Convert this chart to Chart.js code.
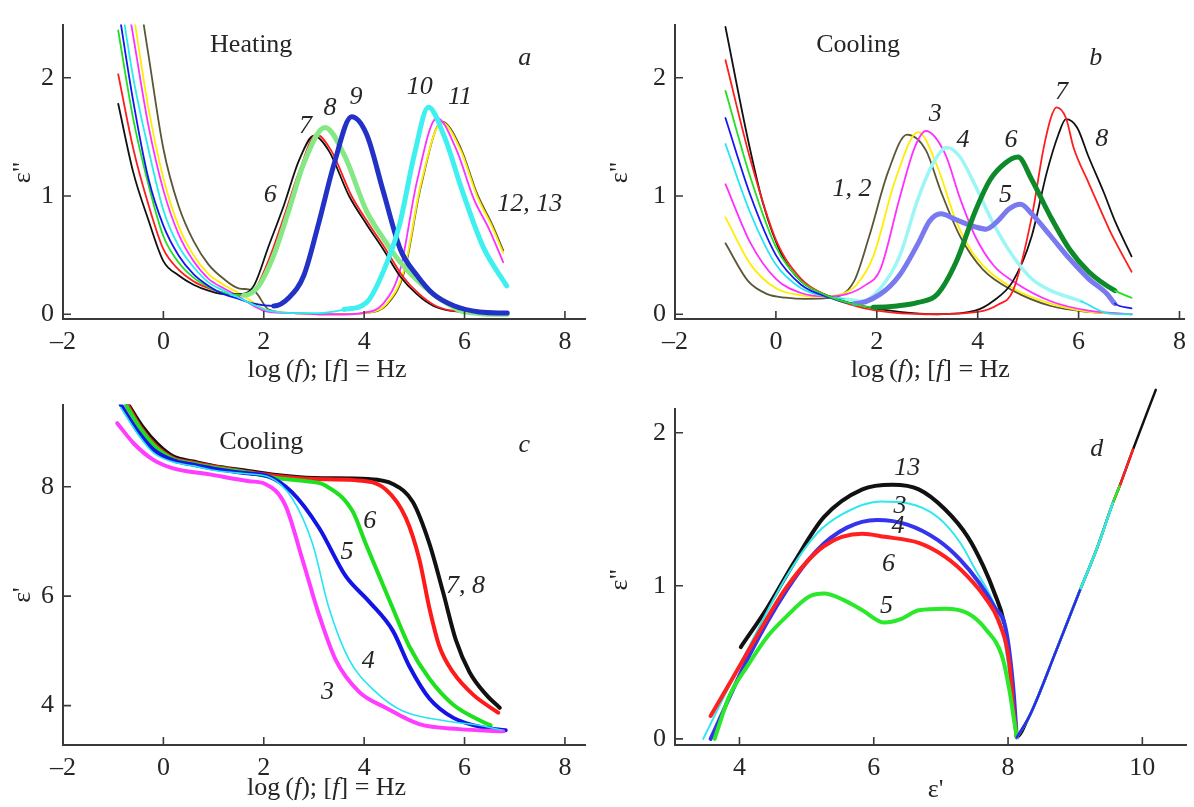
<!DOCTYPE html>
<html>
<head>
<meta charset="utf-8">
<script src="https://cdn.jsdelivr.net/npm/chart.js@4.4.0/dist/chart.umd.min.js"></script>
<style>
  body { margin: 0; background: #fff; width: 1194px; height: 807px; position: relative; overflow: hidden; }
  canvas { position: absolute; }
</style>
</head>
<body>
<canvas id="pc" width="597" height="427" style="left:0;top:380px"></canvas>
<canvas id="pd" width="597" height="427" style="left:597px;top:380px"></canvas>
<canvas id="pa" width="597" height="400" style="left:0;top:0"></canvas>
<canvas id="pb" width="597" height="400" style="left:597px;top:0"></canvas>
<script>
// ---- tick labels
const logTicks = [-2, 0, 2, 4, 6, 8];
const epsTicksAB = [0, 1, 2];
const epsTicksC = [4, 6, 8];
const epsTicksDX = [4, 6, 8, 10];

// ---- panel a (heating), eps'' vs log f
const aX6 = [-0.9,-0.6,-0.3,0,0.3,0.6,0.9,1.2,1.5,1.8,2.1,2.4,2.7,3.0,3.3,3.7,4.05,4.38,4.72,5.05,5.38,5.7,6.0,6.4,6.85];
const aY6 = [1.78,1.2,0.8,0.45,0.33,0.25,0.2,0.17,0.17,0.24,0.58,0.92,1.3,1.51,1.38,1.0,0.76,0.55,0.32,0.17,0.07,0.03,0.02,0.01,0.0];
const aX7 = [-0.9,-0.6,-0.3,0,0.3,0.6,0.9,1.2,1.5,1.8,2.1,2.4,2.7,3.05,3.35,3.75,4.1,4.43,4.77,5.1,5.43,5.75,6.05,6.45,6.85];
const aY7 = [2.03,1.4,0.93,0.55,0.38,0.28,0.22,0.18,0.16,0.2,0.46,0.82,1.2,1.52,1.38,1.0,0.76,0.55,0.32,0.17,0.07,0.03,0.02,0.01,0.0];
const aX8 = [-0.9,-0.6,-0.3,0,0.3,0.6,0.9,1.2,1.6,1.9,2.2,2.5,2.8,3.22,3.6,4.05,4.4,4.72,5.05,5.38,5.7,5.91,6.2,6.5,6.85];
const aY8 = [2.4,1.65,1.1,0.66,0.44,0.31,0.23,0.18,0.16,0.24,0.5,0.88,1.28,1.58,1.35,0.87,0.63,0.44,0.29,0.17,0.08,0.03,0.01,0.0,0.0];
const aX9 = [-0.9,-0.6,-0.3,0,0.3,0.6,0.9,1.2,1.5,1.8,2.2,2.5,2.8,3.1,3.4,3.75,4.05,4.38,4.72,5.05,5.38,5.8,6.3,6.85];
const aY9 = [2.6,1.8,1.15,0.75,0.5,0.34,0.24,0.17,0.13,0.09,0.07,0.14,0.33,0.78,1.27,1.67,1.52,1.04,0.55,0.33,0.17,0.07,0.02,0.01];
const aX10 = [-0.9,-0.6,-0.3,0,0.3,0.6,0.9,1.2,1.5,1.8,2.1,2.6,3.1,3.6,4.05,4.4,4.7,5.0,5.28,5.6,5.95,6.37,6.84];
const aY10 = [2.8,2.0,1.4,0.88,0.58,0.4,0.27,0.2,0.14,0.08,0.03,0.01,0.01,0.04,0.1,0.38,0.75,1.35,1.75,1.5,1.05,0.57,0.24];
const aX11 = [-0.9,-0.6,-0.3,0,0.3,0.6,0.9,1.2,1.5,1.8,2.1,2.6,3.1,3.6,3.95,4.38,4.72,5.05,5.45,5.84,6.18,6.5,6.77];
const aY11 = [3.1,2.35,1.6,1.05,0.68,0.45,0.3,0.22,0.15,0.07,0.02,0.01,0.0,0.0,0.01,0.09,0.38,1.12,1.66,1.39,0.98,0.71,0.44];
const aX12 = [-0.9,-0.6,-0.3,0,0.3,0.6,0.9,1.2,1.5,1.8,2.1,2.6,3.1,3.6,4.0,4.45,4.8,5.13,5.55,5.92,6.25,6.55,6.77];
const aY12 = [3.3,2.55,1.75,1.15,0.75,0.5,0.34,0.25,0.18,0.1,0.03,0.01,0.0,0.0,0.01,0.09,0.38,1.1,1.62,1.39,1.0,0.74,0.52];
const aY13 = [3.6,3.0,2.2,1.4,0.92,0.62,0.42,0.3,0.22,0.2,0.04,0.01,0.0,0.0,0.01,0.08,0.36,1.08,1.63,1.41,1.02,0.76,0.54];

// ---- panel b (cooling), eps'' vs log f
const bX1 = [-1,-0.55,-0.17,0.2,0.58,1.1,1.55,1.85,2.22,2.6,2.97,3.27,3.65,4.1,4.7,5.45,6.2,7.05];
const bY1 = [0.6,0.28,0.17,0.14,0.13,0.14,0.28,0.66,1.2,1.52,1.39,1.04,0.66,0.38,0.2,0.07,0.02,0.0];
const bX2 = [-1,-0.5,0,0.5,0.9,1.3,1.6,1.93,2.37,2.82,3.2,3.57,3.95,4.7,5.45,6.2,7.05];
const bY2 = [0.82,0.42,0.22,0.16,0.15,0.17,0.25,0.49,1.14,1.54,1.25,0.79,0.49,0.22,0.09,0.02,0.0];
const bX3 = [-1,-0.5,0,0.5,1.0,1.4,1.75,2.07,2.45,2.75,2.97,3.35,3.65,3.95,4.32,4.7,5.45,6.2,7.05];
const bY3 = [1.1,0.6,0.3,0.18,0.15,0.17,0.24,0.38,0.98,1.41,1.55,1.36,0.98,0.66,0.41,0.28,0.11,0.03,0.0];
const bX4 = [-1,-0.5,0,0.5,1.0,1.4,1.7,2.07,2.45,2.82,3.12,3.39,3.65,3.95,4.32,4.7,5.07,5.45,6.05,6.57,7.05];
const bY4 = [1.44,0.85,0.42,0.22,0.15,0.13,0.11,0.22,0.49,0.98,1.28,1.41,1.33,1.09,0.76,0.49,0.3,0.2,0.11,0.01,0.0];
const bX5 = [-1,-0.5,0,0.5,1.0,1.55,2.07,2.45,2.82,3.05,3.27,3.57,3.95,4.17,4.4,4.62,4.85,5.07,5.45,5.82,6.2,6.57,6.72,7.05];
const bY5 = [1.66,1.0,0.5,0.25,0.15,0.09,0.17,0.33,0.6,0.79,0.85,0.8,0.74,0.72,0.79,0.89,0.93,0.85,0.66,0.47,0.3,0.17,0.09,0.05];
const bX6 = [-1,-0.5,0,0.5,1.0,1.5,1.93,2.4,2.82,3.2,3.57,3.95,4.25,4.55,4.8,5.07,5.45,5.82,6.2,6.72,7.05];
const bY6 = [1.89,1.15,0.57,0.28,0.16,0.09,0.06,0.07,0.1,0.17,0.44,0.87,1.14,1.28,1.33,1.14,0.82,0.55,0.36,0.2,0.14];
const bX7 = [-1,-0.5,0,0.5,1.0,1.5,2.0,3.0,4.0,4.4,4.7,5.07,5.3,5.45,5.56,5.75,5.9,6.2,6.5,6.65,7.05];
const bY7 = [2.15,1.3,0.63,0.3,0.16,0.08,0.03,0.0,0.02,0.08,0.2,0.82,1.39,1.66,1.75,1.66,1.41,1.11,0.82,0.68,0.36];
const bX8 = [-1,-0.55,-0.25,0.13,0.5,0.95,1.7,2.45,3.2,3.95,4.3,4.7,5.07,5.37,5.6,5.75,5.97,6.2,6.5,6.72,7.05];
const bY8 = [2.43,1.47,0.93,0.49,0.28,0.17,0.07,0.02,0.0,0.03,0.11,0.28,0.66,1.2,1.52,1.65,1.58,1.33,1.03,0.79,0.49];

// ---- panel c (cooling), eps' vs log f
const cX3 = [-0.92,-0.58,-0.2,0.18,0.95,1.71,2.03,2.43,2.77,3.1,3.43,3.9,4.43,5.1,5.9,6.77];
const cY3 = [9.16,8.78,8.49,8.34,8.22,8.1,8.05,7.66,6.67,5.66,4.84,4.25,3.96,3.66,3.57,3.53];
const cX4 = [-0.85,-0.5,-0.2,0.2,0.6,1.0,1.6,2.09,2.57,2.97,3.3,3.7,4.23,4.77,5.63,6.29,6.75];
const cY4 = [9.45,8.95,8.62,8.45,8.38,8.3,8.24,8.18,7.78,6.96,5.78,4.84,4.25,3.9,3.72,3.64,3.55];
const cX5 = [-0.85,-0.5,-0.2,0.2,0.6,1.0,1.6,2.09,2.56,3.1,3.63,4.1,4.57,4.9,5.3,5.77,6.37,6.82];
const cY5 = [9.5,9.0,8.68,8.48,8.4,8.33,8.25,8.19,7.9,7.25,6.37,5.9,5.37,4.72,4.13,3.78,3.6,3.55];
const cX6 = [-0.75,-0.45,-0.15,0.2,0.6,1.0,1.6,2.24,2.85,3.23,3.77,4.03,4.3,4.57,4.9,5.3,5.77,6.37,6.52];
const cY6 = [9.5,9.05,8.72,8.5,8.42,8.35,8.27,8.16,8.1,8.02,7.55,6.96,6.37,5.78,5.08,4.49,4.02,3.7,3.64];
const cX7 = [-0.72,-0.45,-0.15,0.2,0.6,1.0,1.6,2.2,3.0,3.8,4.43,4.83,5.1,5.3,5.5,5.77,6.17,6.67];
const cY7 = [9.5,9.08,8.75,8.52,8.44,8.37,8.28,8.2,8.14,8.12,7.95,7.43,6.67,5.78,5.08,4.61,4.2,3.87];
const cX8 = [-0.7,-0.42,-0.12,0.2,0.6,1.0,1.6,2.2,3.0,4.08,4.57,4.97,5.3,5.57,5.83,6.1,6.43,6.7];
const cY8 = [9.5,9.1,8.78,8.55,8.46,8.38,8.3,8.22,8.16,8.14,8.05,7.72,6.96,6.08,5.19,4.61,4.2,3.96];

// ---- panel d, eps'' vs eps' (arcs and the common right branch)
const dX13 = [4.02,4.42,4.81,5.26,5.83,6.28,6.67,7.06,7.4,7.63,7.8,7.94,8.05,8.13];
const dY13 = [0.6,0.86,1.15,1.45,1.63,1.66,1.63,1.5,1.32,1.13,0.95,0.76,0.42,0.01];
const dX3 = [3.46,3.74,4.14,4.7,5.15,5.54,6.11,6.5,6.95,7.29,7.52,7.74,7.91,8.02,8.08,8.13];
const dY3 = [0.0,0.25,0.6,1.06,1.34,1.47,1.55,1.54,1.45,1.28,1.1,0.93,0.73,0.41,0.18,0.01];
const dX4 = [3.57,4.14,4.7,5.15,5.6,6.05,6.5,6.95,7.29,7.57,7.8,7.97,8.08,8.13];
const dY4 = [0.0,0.54,0.97,1.23,1.38,1.43,1.4,1.3,1.17,1.02,0.86,0.71,0.32,0.01];
const dX6 = [3.57,3.85,4.14,4.7,5.26,5.83,6.16,6.67,7.06,7.4,7.68,7.85,8.02,8.08,8.13];
const dY6 = [0.15,0.36,0.58,0.99,1.26,1.34,1.32,1.28,1.19,1.06,0.91,0.78,0.49,0.19,0.01];
const dX5 = [3.63,3.85,4.14,4.42,4.7,5.04,5.26,5.54,5.83,6.16,6.39,6.67,7.06,7.4,7.68,7.91,8.02,8.08,8.13];
const dY5 = [0.0,0.28,0.49,0.67,0.8,0.93,0.95,0.91,0.84,0.76,0.78,0.84,0.85,0.82,0.71,0.54,0.32,0.15,0.01];
const dBranchX = [8.13,8.32,8.72,9.07,9.32,9.56,9.66,9.86,10.2];
const dBranchY = [0.01,0.15,0.58,0.97,1.24,1.54,1.65,1.89,2.28];

// ---- labels on the plots: [text, x, y, italic]
const aNotes = [["Heating",1.75,2.28,false],["a",7.2,2.17,true],["6",2.13,1.01,true],["7",2.83,1.59,true],["8",3.32,1.74,true],["9",3.84,1.84,true],["10",5.11,1.92,true],["11",5.91,1.84,true],["12, 13",7.3,0.93,true]];
const bNotes = [["Cooling",1.63,2.28,false],["b",6.34,2.17,true],["7",5.66,1.88,true],["8",6.46,1.48,true],["3",3.16,1.69,true],["4",3.71,1.47,true],["6",4.66,1.47,true],["1, 2",1.51,1.06,true],["5",4.55,1.01,true]];
const cNotes = [["Cooling",1.95,8.81,false],["c",7.19,8.75,true],["6",4.11,7.37,true],["5",3.66,6.81,true],["7, 8",6.02,6.19,true],["4",4.08,4.81,true],["3",3.27,4.25,true]];
const dNotes = [["13",6.5,1.77,true],["3",6.39,1.52,true],["4",6.36,1.39,true],["6",6.22,1.14,true],["5",6.19,0.87,true],["d",9.32,1.89,true]];

const SERIF = '"Liberation Serif", "Times New Roman", serif';
const FS = 26;
const AXIS = '#3a3a3a';
const TEXT = '#262626';
const logTitle = [["log\u2009(", false], ["f", true], ["); [", false], ["f", true], ["] = Hz", false]];

function curve(xs, ys, color, width, thick, extra) {
  const ds = {
    data: xs.map((x, i) => ({ x: x, y: ys[i] })),
    borderColor: color,
    borderWidth: width,
    showLine: true,
    pointRadius: 0,
    pointHoverRadius: 0,
    cubicInterpolationMode: 'monotone',
    borderJoinStyle: 'round',
    borderCapStyle: 'round'
  };
  if (thick) {
    // thick = [from, to, width, color]
    const on = c => c.p0.parsed.x >= thick[0] - 1e-9 && c.p1.parsed.x <= thick[1] + 1e-9;
    ds.segment = {
      borderColor: c => (on(c) ? thick[3] : color),
      borderWidth: c => (on(c) ? thick[2] : width)
    };
  }
  return Object.assign(ds, extra || {});
}

function decor(spec) {
  return {
    id: 'decor',
    afterDraw(chart) {
      const { ctx, chartArea: a } = chart;
      const sx = chart.scales.x, sy = chart.scales.y;
      ctx.save();
      // inward tick marks
      ctx.strokeStyle = AXIS;
      ctx.lineWidth = 1.6;
      ctx.beginPath();
      sx.ticks.forEach(t => {
        const px = sx.getPixelForValue(t.value);
        if (px <= a.left + 2) return;
        ctx.moveTo(px, a.bottom); ctx.lineTo(px, a.bottom - 8);
      });
      sy.ticks.forEach(t => {
        const py = sy.getPixelForValue(t.value);
        ctx.moveTo(a.left, py); ctx.lineTo(a.left + 8, py);
      });
      ctx.stroke();

      ctx.fillStyle = TEXT;
      ctx.textAlign = 'center';
      ctx.textBaseline = 'middle';
      spec.notes.forEach(n => {
        ctx.font = (n[3] ? 'italic ' : '') + FS + 'px ' + SERIF;
        ctx.fillText(n[0], sx.getPixelForValue(n[1]), sy.getPixelForValue(n[2]));
      });

      // x title (mixed upright / italic parts)
      const parts = spec.xTitle;
      const widths = parts.map(p => { ctx.font = (p[1] ? 'italic ' : '') + FS + 'px ' + SERIF; return ctx.measureText(p[0]).width; });
      const total = widths.reduce((s, w) => s + w, 0);
      let cx = sx.getPixelForValue(spec.xTitleAt) - total / 2;
      const cy = a.bottom + spec.xTitleDy;
      ctx.textAlign = 'left';
      parts.forEach((p, i) => {
        ctx.font = (p[1] ? 'italic ' : '') + FS + 'px ' + SERIF;
        ctx.fillText(p[0], cx, cy);
        cx += widths[i];
      });

      // y title, rotated
      ctx.textAlign = 'center';
      ctx.font = FS + 'px ' + SERIF;
      ctx.translate(a.left - spec.yTitleDx, sy.getPixelForValue(spec.yTitleAt));
      ctx.rotate(-Math.PI / 2);
      ctx.fillText(spec.yTitle, 0, 0);
      ctx.restore();
    }
  };
}

function build(id, spec) {
  const fmt = v => (v < 0 ? '\u2013' + (-v) : String(v));
  const tickFont = { family: SERIF, size: FS };
  new Chart(document.getElementById(id), {
    type: 'scatter',
    data: { datasets: spec.sets },
    options: {
      responsive: false,
      animation: false,
      devicePixelRatio: 1,
      events: [],
      layout: { padding: { top: spec.top, right: spec.right, left: 0, bottom: 0 } },
      plugins: { legend: { display: false }, tooltip: { enabled: false } },
      scales: {
        x: {
          type: 'linear', min: spec.xr[0], max: spec.xr[1],
          afterBuildTicks: s => { s.ticks = spec.xTicks.map(v => ({ value: v })); },
          afterFit: s => { s.height = spec.xh; },
          grid: { display: false, drawTicks: false },
          border: { display: true, color: AXIS, width: 2 },
          ticks: { font: tickFont, color: TEXT, padding: 8, maxRotation: 0, autoSkip: false, callback: fmt }
        },
        y: {
          type: 'linear', min: spec.yr[0], max: spec.yr[1],
          afterBuildTicks: s => { s.ticks = spec.yTicks.map(v => ({ value: v })); },
          afterFit: s => { s.width = spec.yw; },
          grid: { display: false, drawTicks: false },
          border: { display: true, color: AXIS, width: 2 },
          ticks: { font: tickFont, color: TEXT, padding: 9, autoSkip: false, callback: fmt }
        }
      }
    },
    plugins: [decor(spec)]
  });
}

// panel a
build('pa', {
  top: 13, right: 12, yw: 63, xh: 81,
  xr: [-2, 8.4], yr: [-0.04, 2.45], xTicks: logTicks, yTicks: epsTicksAB,
  notes: aNotes, xTitle: logTitle, xTitleAt: 3.26, xTitleDy: 51, yTitle: 'ε"', yTitleAt: 1.2, yTitleDx: 40,
  sets: [
    curve(aX10, aY10, '#22eeee', 1.8, [3.6, 7, 5, '#3ff0f0']),
    curve(aX9, aY9, '#1515f0', 1.8, [2.2, 7, 5, '#2232c6']),
    curve(aX8, aY8, '#1ee01e', 1.8, [1.6, 7, 5, '#84e884']),
    curve(aX7, aY7, '#ff1e1e', 1.8),
    curve(aX6, aY6, '#111111', 1.8),
    curve(aX11, aY11, '#ff30ff', 1.8),
    curve(aX12, aY12, '#ffee00', 1.8),
    curve(aX12, aY13, '#5a5636', 1.8)
  ]
});

// panel b
build('pb', {
  top: 13, right: 1, yw: 78, xh: 81,
  xr: [-2, 8.1], yr: [-0.04, 2.45], xTicks: logTicks, yTicks: epsTicksAB,
  notes: bNotes, xTitle: logTitle, xTitleAt: 3.06, xTitleDy: 51, yTitle: 'ε"', yTitleAt: 1.2, yTitleDx: 55,
  sets: [
    curve(bX6, bY6, '#22e022', 1.8, [1.93, 6.72, 5, '#0e8a2a']),
    curve(bX5, bY5, '#1818f0', 1.8, [1.55, 6.72, 5, '#7a7af0']),
    curve(bX4, bY4, '#22e6f2', 1.8, [1.4, 6.05, 3.5, '#9cf6f6']),
    curve(bX7, bY7, '#ff1e1e', 1.8),
    curve(bX8, bY8, '#111111', 1.8),
    curve(bX3, bY3, '#ff30ff', 1.8),
    curve(bX2, bY2, '#ffee00', 1.8),
    curve(bX1, bY1, '#5a5636', 1.8)
  ]
});

// panel c
build('pc', {
  top: 13, right: 12, yw: 63, xh: 62,
  xr: [-2, 8.4], yr: [3.28, 9.5], xTicks: logTicks, yTicks: epsTicksC,
  notes: cNotes, xTitle: logTitle, xTitleAt: 3.25, xTitleDy: 43, yTitle: "ε'", yTitleAt: 6.02, yTitleDx: 40,
  sets: [
    curve(cX4, cY4, '#22e6f2', 1.6),
    curve(cX3, cY3, '#ff3cff', 4),
    curve(cX5, cY5, '#1414e6', 4),
    curve(cX6, cY6, '#1ee01e', 4),
    curve(cX7, cY7, '#ff1a1a', 4),
    curve(cX8, cY8, '#111111', 4)
  ]
});

// panel d
build('pd', {
  top: 29, right: 8, yw: 78, xh: 62,
  xr: [3.04, 10.65], yr: [-0.04, 2.155], xTicks: epsTicksDX, yTicks: epsTicksAB,
  notes: dNotes, xTitle: [["ε'", false]], xTitleAt: 6.92, xTitleDy: 45, yTitle: 'ε"', yTitleAt: 1.04, yTitleDx: 55,
  sets: [
    curve(dBranchX.slice(0, 4), dBranchY.slice(0, 4), '#2a2aee', 2.5),
    curve(dBranchX.slice(0, 6), dBranchY.slice(0, 6), '#2ee8f0', 2.5),
    curve(dBranchX.slice(0, 7), dBranchY.slice(0, 7), '#2ae82a', 2.5),
    curve(dBranchX.slice(0, 8), dBranchY.slice(0, 8), '#ff2020', 2.5),
    curve(dX5, dY5, '#2ae82a', 4),
    curve(dX6, dY6, '#ff2020', 4),
    curve(dX4, dY4, '#3434ee', 4),
    curve(dX3, dY3, '#2ee8f0', 2),
    curve(dX13.concat(dBranchX.slice(1)), dY13.concat(dBranchY.slice(1)), '#111111', 2.5, [3, 8.0, 4, '#111111'], { clip: false })
  ]
});
</script>
</body>
</html>
